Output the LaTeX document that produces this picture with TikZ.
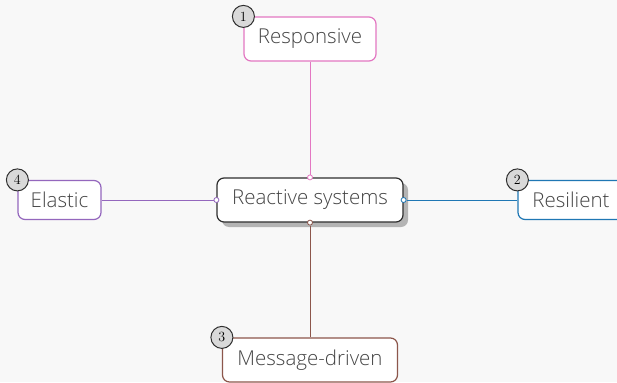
\documentclass[tikz,border=0pt]{standalone}
\usepackage{fontspec}
\newfontfamily\mapfont{Open Sans Light}
\usetikzlibrary{shadows,positioning}

\definecolor{canvas}{HTML}{F8F8F8}
\definecolor{inkgray}{HTML}{444444}
\definecolor{hubgray}{HTML}{2E2E2E}
\definecolor{shadowgray}{HTML}{B4B4B4}
\definecolor{badgegray}{HTML}{D9D9D9}
\definecolor{cpink}{HTML}{E377C2}
\definecolor{cblue}{HTML}{1F77B4}
\definecolor{cpurple}{HTML}{9467BD}
\definecolor{cbrown}{HTML}{8C564B}

\tikzset{
	topic/.style={draw, rounded corners=7pt, line width=1.2pt, fill=white, text=inkgray,
		font=\mapfont\fontsize{20.5}{24}\selectfont, inner sep=0pt},
	hub/.style={topic, draw=hubgray,
		drop shadow={shadow xshift=5pt, shadow yshift=-5pt, fill=shadowgray, opacity=1}},
	badge/.style={circle, draw=hubgray, fill=badgegray, line width=1pt, inner sep=0pt,
		minimum size=22pt, font=\fontsize{14}{14}\selectfont},
	joint/.style={circle, draw, fill=white, inner sep=0pt, minimum size=5pt, line width=0.8pt},
	link/.style={line width=1pt}
}

\begin{document}
\begin{tikzpicture}[x=1pt, y=-1pt]
	\fill [canvas] (0,0) rectangle (617,382);
	\useasboundingbox (0,0) rectangle (617,382);

	% centre and the four topics
	\node [hub, minimum width=186pt, minimum height=44pt] (hub) at (310,200) {Reactive systems};
	\node [topic, draw=cpink, minimum width=132pt, minimum height=44pt] (resp) at (310,39) {Responsive};
	\node [topic, draw=cblue, minimum width=106pt, minimum height=39pt] (resi) at (571,200) {Resilient};
	\node [topic, draw=cbrown, minimum width=175pt, minimum height=44pt] (msg) at (310,360) {Message-driven};
	\node [topic, draw=cpurple, minimum width=83pt, minimum height=39pt] (elas) at (59.5,200) {Elastic};

	% joints on the centre box
	\node [joint, draw=cpink] (jn) at (hub.north) {};
	\node [joint, draw=cblue] (je) at (hub.east) {};
	\node [joint, draw=cbrown] (js) at (hub.south) {};
	\node [joint, draw=cpurple] (jw) at (hub.west) {};

	\draw [link, cpink] (resp) -- (jn);
	\draw [link, cblue] (je) -- (resi);
	\draw [link, cbrown] (js) -- (msg);
	\draw [link, cpurple] (elas) -- (jw);

	% numbered badges
	\node [badge] (b1) at (resp.north west) {1};
	\node [badge] (b2) at (resi.north west) {2};
	\node [badge] (b3) at (msg.north west) {3};
	\node [badge] (b4) at (elas.north west) {4};
\end{tikzpicture}
\end{document}
